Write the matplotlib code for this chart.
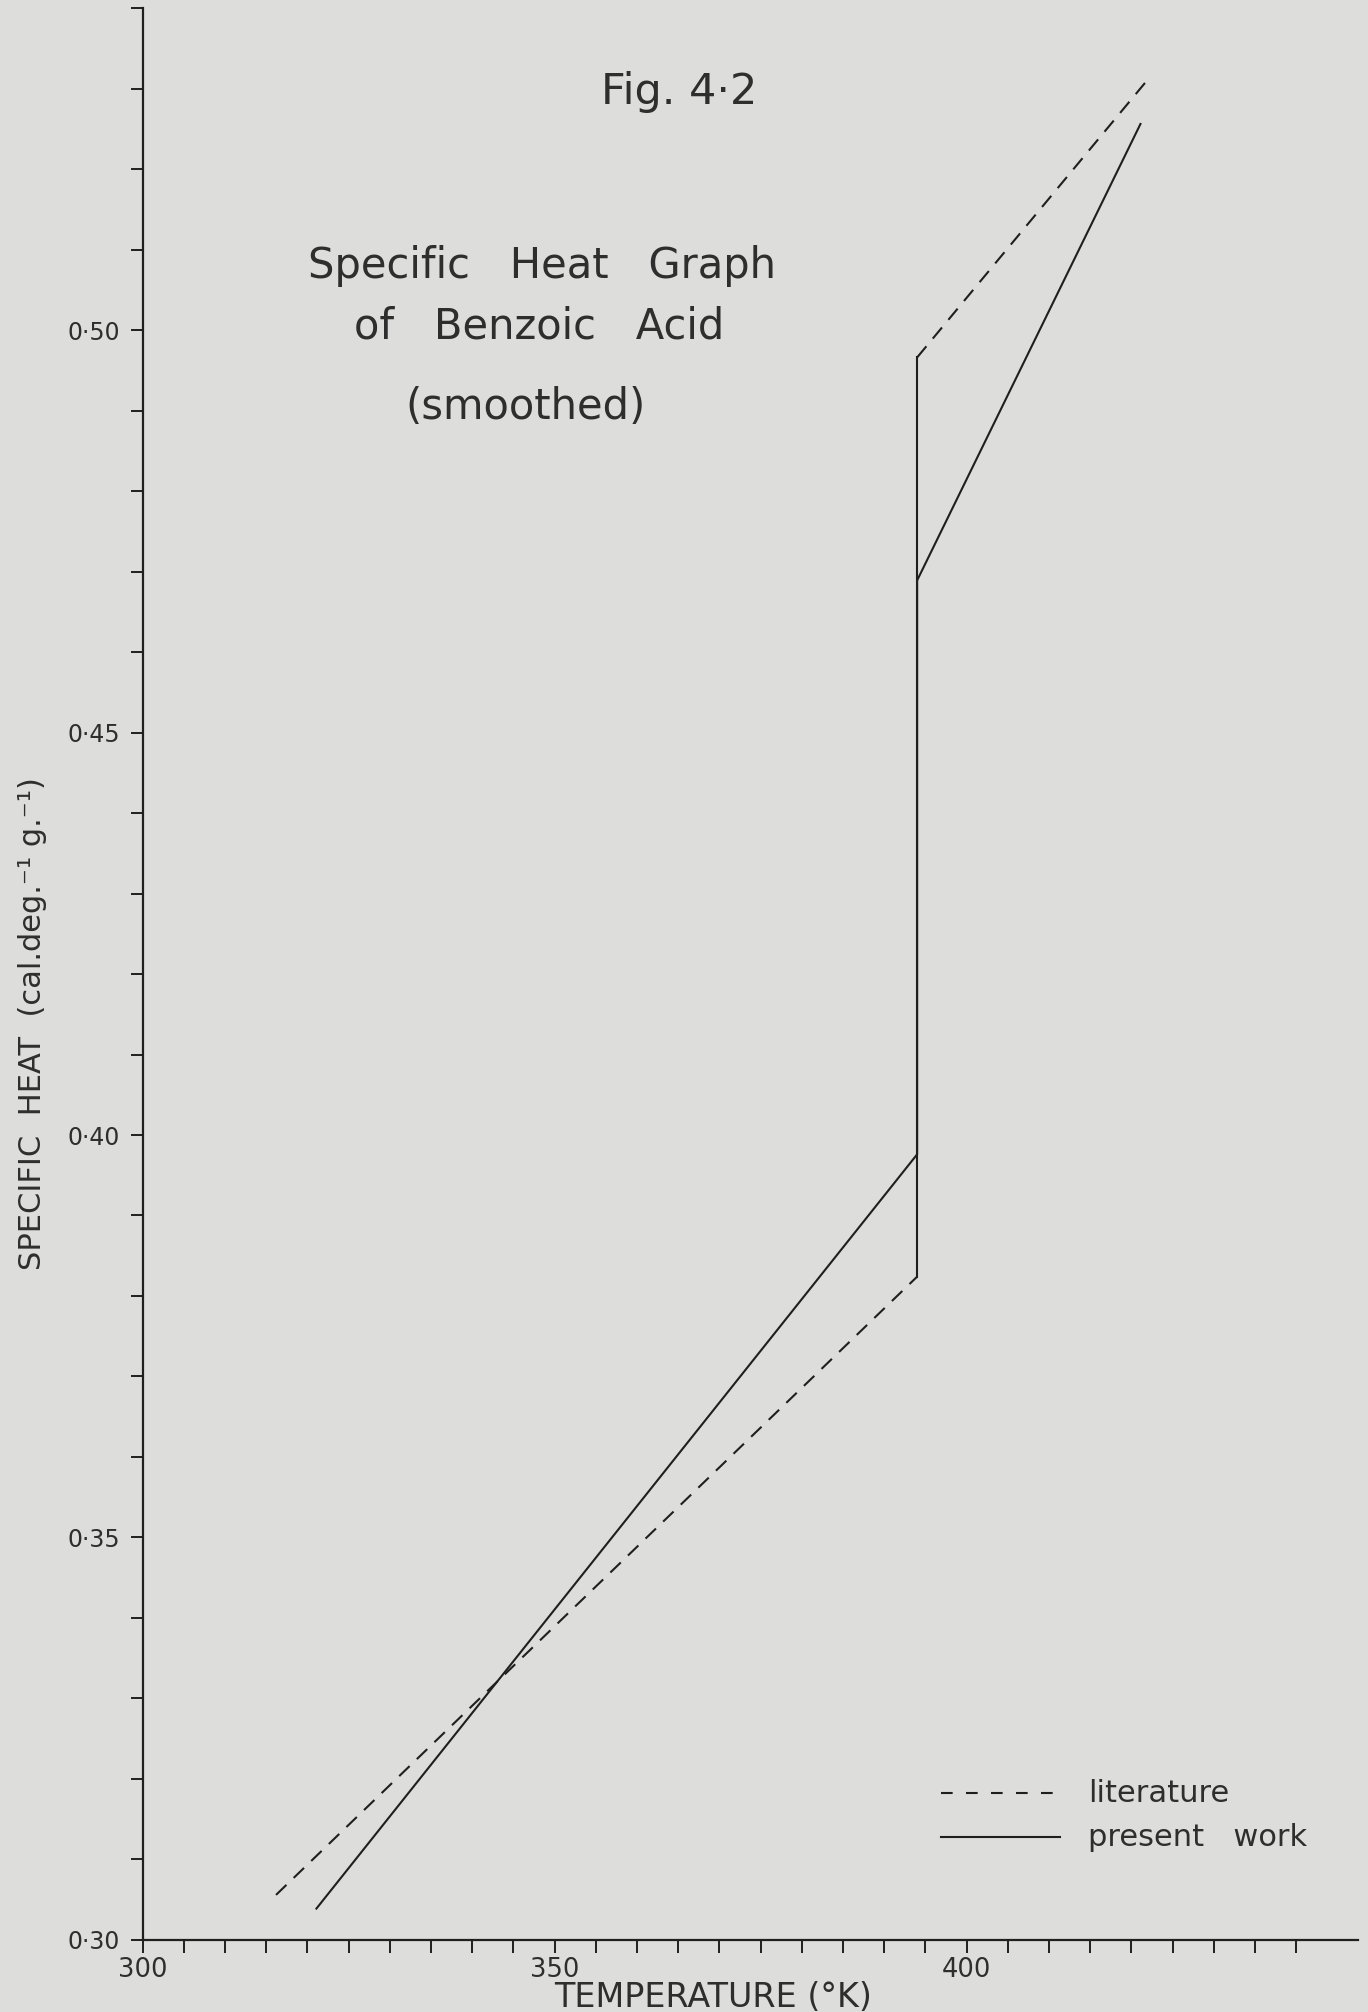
import matplotlib
matplotlib.use("Agg")
import matplotlib.pyplot as plt
from matplotlib.ticker import FixedLocator, FixedFormatter, NullFormatter

plt.rcParams["font.family"] = ["DejaVu Sans"]
plt.rcParams["lines.scale_dashes"] = False

# Smoothed specific heat of benzoic acid, T in K, Cp in cal deg^-1 g^-1
lit_low_T = [316.2, 394.0]
lit_low_cp = [0.3056, 0.3824]
lit_jump_T = [394.0, 394.0]
lit_jump_cp = [0.3824, 0.4966]
lit_high_T = [394.0, 422.3]
lit_high_cp = [0.4966, 0.5315]

work_T = [321.1, 394.0, 394.0, 421.1]
work_cp = [0.3039, 0.3976, 0.4689, 0.5256]

x_major = [300, 350, 400]
x_major_labels = ["300", "350", "400"]
x_minor = [305, 310, 315, 320, 325, 330, 335, 340, 345, 355, 360, 365, 370,
           375, 380, 385, 390, 395, 405, 410, 415, 420, 425, 430, 435, 440]
y_major = [0.30, 0.35, 0.40, 0.45, 0.50]
y_major_labels = ["0·30", "0·35", "0·40", "0·45", "0·50"]
y_minor = [0.31, 0.32, 0.33, 0.34, 0.36, 0.37, 0.38, 0.39, 0.41, 0.42, 0.43,
           0.44, 0.46, 0.47, 0.48, 0.49, 0.51, 0.52, 0.53, 0.54]

paper = "#dddddc"
ink = "#1f1f1f"
text_ink = "#2e2e2e"

fig = plt.figure(figsize=(13.68, 20.12), dpi=100, facecolor=paper)
ax = fig.add_axes([0.1042, 0.0358, 0.8885, 0.9602], facecolor=paper)

dash = (0, (10.4, 7.2))
ax.plot(lit_low_T, lit_low_cp, color=ink, lw=1.5, linestyle=dash)
ax.plot(lit_jump_T, lit_jump_cp, color=ink, lw=1.5)
ax.plot(lit_high_T, lit_high_cp, color=ink, lw=1.5, linestyle=dash)
ax.plot(work_T, work_cp, color=ink, lw=1.5)

ax.set_xlim(300, 447.5)
ax.set_ylim(0.30, 0.54)

for side in ("top", "right"):
    ax.spines[side].set_visible(False)
for side in ("left", "bottom"):
    ax.spines[side].set_linewidth(1.6)
    ax.spines[side].set_color(ink)

ax.xaxis.set_major_locator(FixedLocator(x_major))
ax.xaxis.set_major_formatter(FixedFormatter(x_major_labels))
ax.xaxis.set_minor_locator(FixedLocator(x_minor))
ax.xaxis.set_minor_formatter(NullFormatter())
ax.yaxis.set_major_locator(FixedLocator(y_major))
ax.yaxis.set_major_formatter(FixedFormatter(y_major_labels))
ax.yaxis.set_minor_locator(FixedLocator(y_minor))
ax.yaxis.set_minor_formatter(NullFormatter())

ax.tick_params(axis="x", which="both", direction="out", length=9.5, width=1.4,
               color=ink, labelsize=18.5, labelcolor=text_ink, pad=3)
ax.tick_params(axis="y", which="both", direction="out", length=8.5, width=1.4,
               color=ink, labelsize=17, labelcolor=text_ink, pad=8)

ax.set_xlabel("TEMPERATURE (°K)", fontsize=24, color=text_ink)
ax.xaxis.set_label_coords(0.469, -0.0300)
ax.xaxis.label.set_va("center")
ax.set_ylabel("SPECIFIC  HEAT  (cal.deg.⁻¹ g.⁻¹)", fontsize=22, color=text_ink)
ax.yaxis.set_label_coords(-0.0909, 0.4746)
ax.yaxis.label.set_va("center")

# Figure number and title block
fig.text(0.4963, 0.9543, "Fig. 4·2", fontsize=31, color=text_ink,
         ha="center", va="center")
fig.text(0.3959, 0.8680, "Specific   Heat   Graph", fontsize=30,
         color=text_ink, ha="center", va="center")
fig.text(0.3940, 0.8375, "of   Benzoic   Acid", fontsize=30,
         color=text_ink, ha="center", va="center")
fig.text(0.3845, 0.7977, "(smoothed)", fontsize=30, color=text_ink,
         ha="center", va="center")

# Key
leg_y1 = 1 - 1793 / 2012
leg_y2 = 1 - 1837 / 2012
fig.add_artist(plt.Line2D([941 / 1368, 1060 / 1368], [leg_y1, leg_y1],
                          color=ink, lw=1.5, linestyle=(0, (8.4, 9.6))))
fig.add_artist(plt.Line2D([941 / 1368, 1060 / 1368], [leg_y2, leg_y2],
                          color=ink, lw=1.5))
fig.text(1088 / 1368, leg_y1, "literature", fontsize=22, color=text_ink,
         ha="left", va="center")
fig.text(1088 / 1368, leg_y2, "present   work", fontsize=22, color=text_ink,
         ha="left", va="center")

fig.savefig("out.png", dpi=100, facecolor=paper)
